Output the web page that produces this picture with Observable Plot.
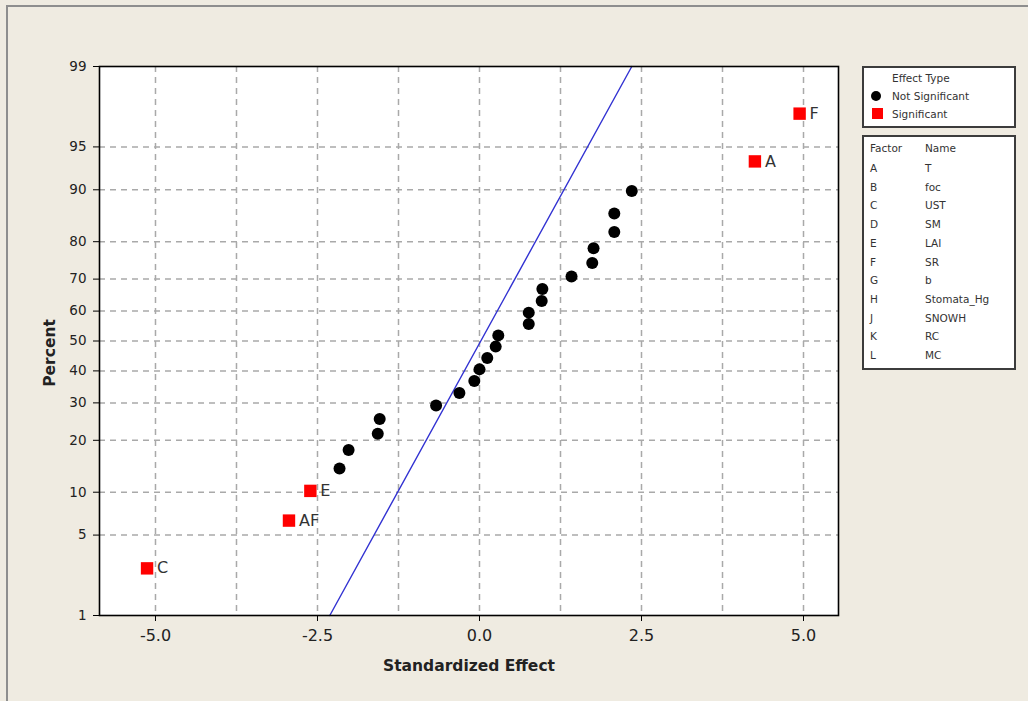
<!DOCTYPE html>
<html><head><meta charset="utf-8">
<script src="https://cdn.jsdelivr.net/npm/d3@7"></script>
<script src="https://cdn.jsdelivr.net/npm/@observablehq/plot@0.6"></script>
<style>
html,body{margin:0;padding:0;background:#EFEBE1;}
#wrap{position:relative;width:1028px;height:701px;overflow:hidden;background:#EFEBE1;}
#edge{position:absolute;left:6px;top:5px;width:1100px;height:800px;border-left:2px solid #8e8e8e;border-top:2px solid #8e8e8e;box-sizing:border-box;}
#chart{position:absolute;left:0;top:0;}
.box{position:absolute;left:862px;width:154px;background:#fff;border:2px solid #3c3c3c;box-sizing:border-box;}
.lt{position:absolute;font-family:"DejaVu Sans",sans-serif;font-size:10.5px;line-height:14px;color:#333;white-space:nowrap;}
</style></head>
<body>
<div id="wrap"><div id="edge"></div><div id="chart"></div></div>
<script>
// Standardized effects (x) and normal-probability percents (y)
const effect  = [-5.13, -2.94, -2.61, -2.16, -2.02, -1.57, -1.54, -0.67, -0.31, -0.08, 0.00, 0.12, 0.25, 0.29,
                 0.76, 0.76, 0.96, 0.97, 1.42, 1.74, 1.76, 2.08, 2.08, 2.35, 4.25, 4.94];
const percent = [2.7, 6.4, 10.2, 14.0, 17.8, 21.6, 25.4, 29.2, 33.0, 36.7, 40.5, 44.3, 48.1, 51.9,
                 55.7, 59.5, 63.3, 67.0, 70.8, 74.6, 78.4, 82.2, 86.0, 89.8, 93.6, 97.3];
const significant = [true, true, true, false, false, false, false, false, false, false, false, false, false, false,
                     false, false, false, false, false, false, false, false, false, false, true, true];
const pointLabel = ["C", "AF", "E", "", "", "", "", "", "", "", "", "", "", "",
                    "", "", "", "", "", "", "", "", "", "", "A", "F"];
// reference line end points
const refEffect = [-2.31, 2.35];
const refPercent = [1, 99];
// axes
const percentTicks = [1, 5, 10, 20, 30, 40, 50, 60, 70, 80, 90, 95, 99];
const effectTicks = [-5, -2.5, 0, 2.5, 5];
const effectGrid = [-5, -3.75, -2.5, -1.25, 0, 1.25, 2.5, 3.75, 5];
// legend
const effectTypes = ["Not Significant", "Significant"];
const factorCodes = ["A", "B", "C", "D", "E", "F", "G", "H", "J", "K", "L"];
const factorNames = ["T", "foc", "UST", "SM", "LAI", "SR", "b", "Stomata_Hg", "SNOWH", "RC", "MC"];

// inverse normal CDF (Acklam)
function probit(p){
  const a=[-3.969683028665376e+01,2.209460984245205e+02,-2.759285104469687e+02,1.383577518672690e+02,-3.066479806614716e+01,2.506628277459239e+00];
  const b=[-5.447609879822406e+01,1.615858368580409e+02,-1.556989798598866e+02,6.680131188771972e+01,-1.328068155288572e+01];
  const c=[-7.784894002430293e-03,-3.223964580411365e-01,-2.400758277161838e+00,-2.549732539343734e+00,4.374664141464968e+00,2.938163982698783e+00];
  const d=[7.784695709041462e-03,3.224671290700398e-01,2.445134137142996e+00,3.754408661907416e+00];
  const pl=0.02425, ph=1-pl; let q,r;
  if(p<pl){q=Math.sqrt(-2*Math.log(p));return (((((c[0]*q+c[1])*q+c[2])*q+c[3])*q+c[4])*q+c[5])/((((d[0]*q+d[1])*q+d[2])*q+d[3])*q+1);}
  if(p>ph){q=Math.sqrt(-2*Math.log(1-p));return -(((((c[0]*q+c[1])*q+c[2])*q+c[3])*q+c[4])*q+c[5])/((((d[0]*q+d[1])*q+d[2])*q+d[3])*q+1);}
  q=p-0.5;r=q*q;return (((((a[0]*r+a[1])*r+a[2])*r+a[3])*r+a[4])*r+a[5])*q/(((((b[0]*r+b[1])*r+b[2])*r+b[3])*r+b[4])*r+1);
}
const zp = p => probit(p / 100);

const points = effect.map((e, i) => ({effect: e, percent: percent[i], sig: significant[i], label: pointLabel[i]}));
const sigPts = points.filter(d => d.sig);
const nsPts = points.filter(d => !d.sig);
const refLine = refEffect.map((e, i) => ({effect: e, percent: refPercent[i]}));
const tickZ = percentTicks.map(zp);
const tickLabel = new Map(tickZ.map((z, i) => [z, String(percentTicks[i])]));
const gridZ = tickZ.slice(1, -1);

const font = "DejaVu Sans, sans-serif";
const chart = Plot.plot({
  width: 1028, height: 701,
  marginLeft: 99, marginRight: 190, marginTop: 66, marginBottom: 86,
  style: {background: "transparent", fontFamily: font, color: "#222"},
  x: {domain: [-5.864, 5.54]},
  y: {domain: [zp(1), zp(99)]},
  marks: [
    Plot.frame({fill: "white", stroke: null}),
    Plot.gridX(effectGrid, {stroke: "#a9a9a9", strokeOpacity: 1, strokeWidth: 1.5, strokeDasharray: "6,5"}),
    Plot.gridY(gridZ, {stroke: "#a9a9a9", strokeOpacity: 1, strokeWidth: 1.5, strokeDasharray: "6,5"}),
    Plot.line(refLine, {x: "effect", y: d => zp(d.percent), stroke: "#3232d2", strokeWidth: 1.4}),
    Plot.dot(nsPts, {x: "effect", y: d => zp(d.percent), r: 6, fill: "#000", stroke: null}),
    Plot.dot(sigPts, {x: "effect", y: d => zp(d.percent), r: 7, symbol: "square", fill: "#ff0000", stroke: null}),
    Plot.text(sigPts, {x: "effect", y: d => zp(d.percent), text: "label", dx: 10, textAnchor: "start", fontSize: 16, fill: "#333"}),
    Plot.frame({stroke: "#000", strokeWidth: 1.6}),
    Plot.axisX(effectTicks, {tickSize: 6, tickPadding: 8, fontSize: 16, tickFormat: d => d.toFixed(1), label: null, stroke: "#000"}),
    Plot.axisY(tickZ, {tickSize: 6, tickPadding: 7, fontSize: 13.5, tickFormat: d => tickLabel.get(d), label: null, stroke: "#000"}),
    Plot.text(["Standardized Effect"], {frameAnchor: "bottom", textAnchor: "middle", lineAnchor: "middle", dy: 51, text: d => d, fontWeight: "bold", fontSize: 15.5, fill: "#222"}),
    Plot.text(["Percent"], {frameAnchor: "left", textAnchor: "middle", lineAnchor: "middle", dx: -49, dy: 12, rotate: -90, text: d => d, fontWeight: "bold", fontSize: 15.5, fill: "#222"})
  ]
});
document.getElementById("chart").appendChild(chart);

// legend
const wrap = document.getElementById("wrap");
function box(top, h){ const b = document.createElement("div"); b.className = "box"; b.style.top = top + "px"; b.style.height = h + "px"; wrap.appendChild(b); }
function txt(s, x, yc){ const t = document.createElement("div"); t.className = "lt"; t.textContent = s; t.style.left = x + "px"; t.style.top = (yc - 7) + "px"; wrap.appendChild(t); }
box(66, 62);
box(135, 235);
txt("Effect Type", 892, 78);
effectTypes.forEach((s, i) => txt(s, 892, 96 + i * 18));
const dot = document.createElement("div");
dot.style.cssText = "position:absolute;left:871px;top:91px;width:10px;height:10px;border-radius:50%;background:#000;";
wrap.appendChild(dot);
const sq = document.createElement("div");
sq.style.cssText = "position:absolute;left:872px;top:108px;width:11px;height:11px;background:#ff0000;";
wrap.appendChild(sq);
txt("Factor", 870, 148);
txt("Name", 925, 148);
factorCodes.forEach((c, i) => { txt(c, 870, 168 + i * 18.7); txt(factorNames[i], 925, 168 + i * 18.7); });
</script>
</body></html>
